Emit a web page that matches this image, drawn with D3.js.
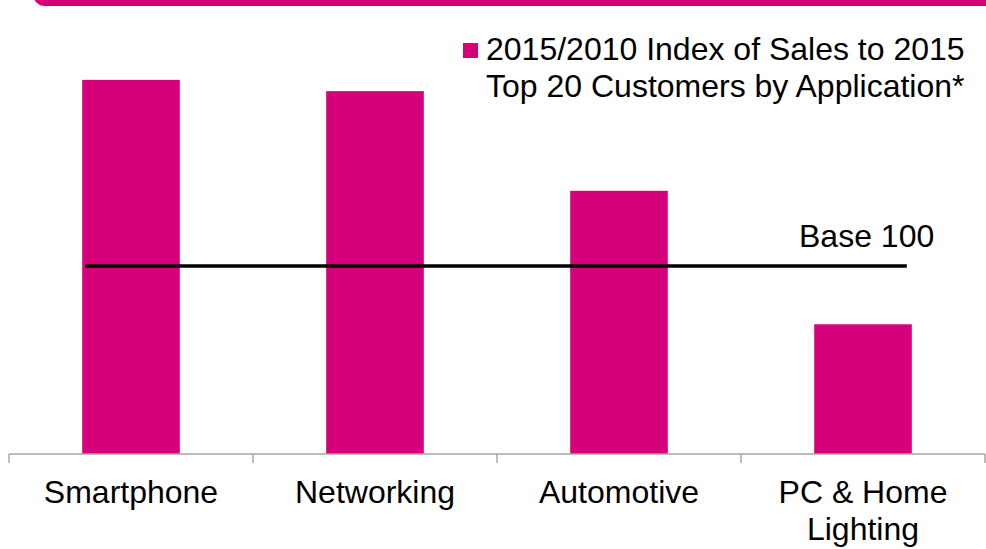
<!DOCTYPE html>
<html>
<head>
<meta charset="utf-8">
<script src="https://cdn.jsdelivr.net/npm/d3@7"></script>
<style>
  html, body { margin: 0; padding: 0; background: #fff; }
  svg { display: block; font-family: "Liberation Sans", Arial, sans-serif; }
</style>
</head>
<body>
<svg id="chart" width="986" height="549"></svg>
<script>
// Index of sales, 2015 vs 2010 (2010 = 100)
const categories = ["Smartphone", "Networking", "Automotive", "PC & Home Lighting"];
const categoryLines = [["Smartphone"], ["Networking"], ["Automotive"], ["PC & Home", "Lighting"]];
const indexValues = [199, 193, 140, 69];
const baseValue = 100;
const baseLabel = "Base 100";
const legendLines = ["2015/2010 Index of Sales to 2015", "Top 20 Customers by Application*"];

const magenta = "#D5007A";
const fontSize = 32;

const svg = d3.select("#chart");

// Header strip across the top, rounded at its lower-left corner
svg.append("rect")
  .attr("x", 33).attr("y", -30)
  .attr("width", 1000).attr("height", 36)
  .attr("rx", 12).attr("ry", 12)
  .attr("fill", magenta);

const x = d3.scaleBand()
  .domain(categories)
  .range([9, 985])
  .paddingInner(0.6)
  .paddingOuter(0.3);

const y = d3.scaleLinear()
  .domain([0, 200])
  .range([454, 78]);

// Bars
svg.append("g").selectAll("rect")
  .data(categories)
  .join("rect")
  .attr("x", d => x(d))
  .attr("width", x.bandwidth())
  .attr("y", (d, i) => y(indexValues[i]))
  .attr("height", (d, i) => y(0) - y(indexValues[i]))
  .attr("fill", magenta);

// Category axis with ticks between categories
const axisG = svg.append("g");
axisG.append("line")
  .attr("x1", x.range()[0]).attr("x2", x.range()[1])
  .attr("y1", y(0)).attr("y2", y(0))
  .attr("stroke", "#A6A6A6").attr("stroke-width", 1.5);
const boundaries = categories.map(d => x(d) - x.step() * x.paddingInner() / 2)
  .concat([x.range()[1]]);
boundaries[0] = x.range()[0];
axisG.selectAll("line.tick")
  .data(boundaries)
  .join("line")
  .attr("class", "tick")
  .attr("x1", d => d).attr("x2", d => d)
  .attr("y1", y(0)).attr("y2", y(0) + 9)
  .attr("stroke", "#A6A6A6").attr("stroke-width", 1.5);

const labelG = svg.append("g")
  .attr("font-size", fontSize)
  .attr("fill", "#000")
  .attr("text-anchor", "middle");
categories.forEach((c, i) => {
  const t = labelG.append("text")
    .attr("x", x(c) + x.bandwidth() / 2)
    .attr("y", 503);
  categoryLines[i].forEach((line, j) => {
    t.append("tspan")
      .attr("x", x(c) + x.bandwidth() / 2)
      .attr("dy", j === 0 ? 0 : 37)
      .text(line);
  });
});

// Base 100 reference line
const first = categories[0], last = categories[categories.length - 1];
svg.append("line")
  .attr("x1", x(first) + 3)
  .attr("x2", x(last) + x.bandwidth() - 5)
  .attr("y1", y(baseValue)).attr("y2", y(baseValue))
  .attr("stroke", "#000").attr("stroke-width", 3.5);
svg.append("text")
  .attr("x", 799)
  .attr("y", y(baseValue) - 19)
  .attr("font-size", fontSize)
  .attr("fill", "#000")
  .text(baseLabel);

// Legend
const legend = svg.append("g");
legend.append("rect")
  .attr("x", 463).attr("y", 43)
  .attr("width", 15).attr("height", 15)
  .attr("fill", magenta);
const lt = legend.append("text")
  .attr("font-size", fontSize)
  .attr("fill", "#000");
legendLines.forEach((line, j) => {
  lt.append("tspan")
    .attr("x", 486)
    .attr("y", 60 + j * 37)
    .text(line);
});
</script>
</body>
</html>
